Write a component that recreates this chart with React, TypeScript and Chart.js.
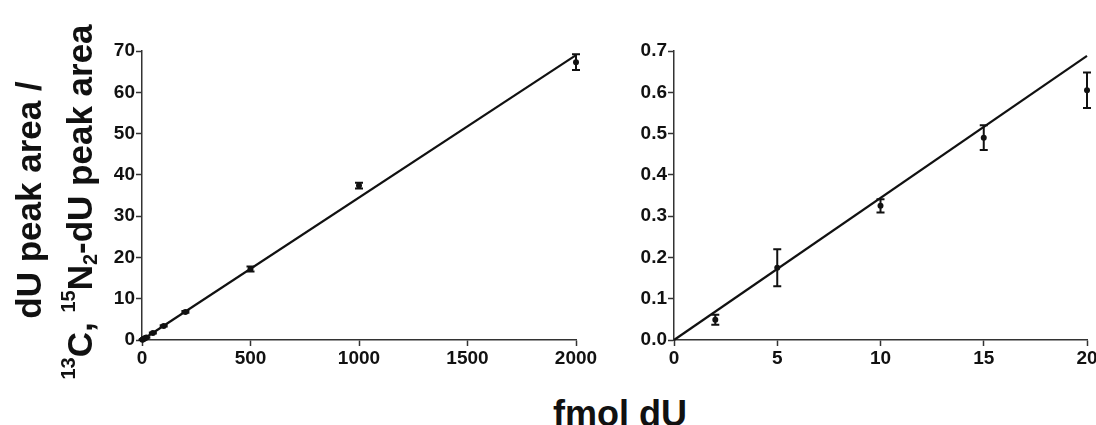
import React, { useEffect, useRef } from "react";
import { Chart, registerables } from "chart.js";
Chart.register(...registerables);

// ---- data ----
const leftX = [2, 5, 10, 15, 20, 50, 100, 200, 500, 1000, 2000];
const leftY = [0.05, 0.17, 0.33, 0.49, 0.6, 1.7, 3.4, 6.8, 17.2, 37.4, 67.3];
const leftErr = [0.01, 0.05, 0.02, 0.03, 0.04, 0.1, 0.15, 0.2, 0.6, 0.7, 1.9];
const leftFitX = [0, 2000];
const leftFitY = [0, 69.0];

const rightX = [2, 5, 10, 15, 20];
const rightY = [0.049, 0.175, 0.325, 0.49, 0.605];
const rightErr = [0.012, 0.045, 0.016, 0.03, 0.043];
const rightFitX = [0, 20];
const rightFitY = [0, 0.688];

const leftXTicks = [0, 500, 1000, 1500, 2000];
const leftYTicks = [0, 10, 20, 30, 40, 50, 60, 70];
const rightXTicks = [0, 5, 10, 15, 20];
const rightYTicks = [0, 0.1, 0.2, 0.3, 0.4, 0.5, 0.6, 0.7];

const xTitle = "fmol dU";

const FONT = "'Liberation Sans', Arial, Helvetica, sans-serif";
const INK = "#111";

function errPlugin(xs: number[], ys: number[], errs: number[]) {
  return {
    id: "errbars",
    afterDatasetsDraw(chart: any) {
      const ctx = chart.ctx;
      const sx = chart.scales.x;
      const sy = chart.scales.y;
      ctx.save();
      ctx.strokeStyle = INK;
      ctx.lineWidth = 2;
      xs.forEach((x, i) => {
        const px = sx.getPixelForValue(x);
        const top = sy.getPixelForValue(ys[i] + errs[i]);
        const bot = sy.getPixelForValue(ys[i] - errs[i]);
        ctx.beginPath();
        ctx.moveTo(px, top);
        ctx.lineTo(px, bot);
        ctx.moveTo(px - 4, top);
        ctx.lineTo(px + 4, top);
        ctx.moveTo(px - 4, bot);
        ctx.lineTo(px + 4, bot);
        ctx.stroke();
      });
      ctx.restore();
    },
  };
}

function makeConfig(
  xs: number[], ys: number[], errs: number[],
  fitX: number[], fitY: number[],
  xTicks: number[], yTicks: number[], decimals: number,
  yAxisWidth: number, padRight: number
): any {
  const tickFont = { family: FONT, size: 19, weight: "bold" as const };
  return {
    type: "scatter",
    data: {
      datasets: [
        {
          data: fitX.map((x, i) => ({ x, y: fitY[i] })),
          showLine: true,
          borderColor: INK,
          borderWidth: 2.2,
          pointRadius: 0,
          clip: false,
        },
        {
          data: xs.map((x, i) => ({ x, y: ys[i] })),
          pointRadius: 3,
          pointBackgroundColor: INK,
          pointBorderColor: INK,
          borderWidth: 0,
          clip: false,
        },
      ],
    },
    options: {
      animation: false,
      responsive: false,
      layout: { padding: { top: 51, right: padRight, bottom: 0, left: 0 } },
      plugins: { legend: { display: false }, tooltip: { enabled: false } },
      scales: {
        x: {
          type: "linear",
          min: xTicks[0],
          max: xTicks[xTicks.length - 1],
          afterBuildTicks: (s: any) => { s.ticks = xTicks.map((v) => ({ value: v })); },
          afterFit: (s: any) => { s.height = 40; s.paddingLeft = 0; s.paddingRight = 0; },
          grid: { display: true, drawOnChartArea: false, drawTicks: true, tickLength: 6, tickWidth: 1.5, tickColor: "#333" },
          border: { display: true, color: "#333", width: 1.5 },
          ticks: { color: INK, font: tickFont, padding: 1, maxRotation: 0, autoSkip: false, callback: (v: any) => String(v) },
        },
        y: {
          type: "linear",
          min: yTicks[0],
          max: yTicks[yTicks.length - 1],
          afterBuildTicks: (s: any) => { s.ticks = yTicks.map((v) => ({ value: v })); },
          afterFit: (s: any) => { s.width = yAxisWidth; s.paddingTop = 0; s.paddingBottom = 0; },
          grid: { display: true, drawOnChartArea: false, drawTicks: true, tickLength: 6, tickWidth: 1.5, tickColor: "#333" },
          border: { display: true, color: "#333", width: 1.5 },
          ticks: { color: INK, font: tickFont, padding: 1, autoSkip: false, callback: (v: any) => Number(v).toFixed(decimals) },
        },
      },
    },
    plugins: [errPlugin(xs, ys, errs)],
  };
}

export default function App() {
  const leftRef = useRef<HTMLCanvasElement>(null);
  const rightRef = useRef<HTMLCanvasElement>(null);

  useEffect(() => {
    const c1 = new Chart(
      leftRef.current!,
      makeConfig(leftX, leftY, leftErr, leftFitX, leftFitY, leftXTicks, leftYTicks, 0, 142, 24)
    );
    const c2 = new Chart(
      rightRef.current!,
      makeConfig(rightX, rightY, rightErr, rightFitX, rightFitY, rightXTicks, rightYTicks, 1, 74, 9)
    );
    return () => {
      c1.destroy();
      c2.destroy();
    };
  }, []);

  const titleStyle: React.CSSProperties = {
    position: "absolute",
    fontFamily: FONT,
    fontWeight: "bold",
    color: INK,
    whiteSpace: "nowrap",
    lineHeight: 1,
  };
  const sup: React.CSSProperties = { fontSize: 20, position: "relative", top: -17 };
  const sub: React.CSSProperties = { fontSize: 20, position: "relative", top: 5 };

  return (
    <div style={{ position: "fixed", left: 0, top: 0, width: 1096, height: 425, background: "#fff", overflow: "hidden" }}>
      <canvas ref={leftRef} width={600} height={380} style={{ position: "absolute", left: 0, top: 0, width: 600, height: 380 }} />
      <canvas ref={rightRef} width={496} height={380} style={{ position: "absolute", left: 600, top: 0, width: 496, height: 380 }} />
      <div style={{ ...titleStyle, fontSize: 35, left: 28, top: 200, transform: "translate(-50%, -50%) rotate(-90deg)" }}>
        dU peak area /
      </div>
      <div style={{ ...titleStyle, fontSize: 35, left: 79, top: 202, transform: "translate(-50%, -50%) rotate(-90deg)" }}>
        <span style={sup}>13</span>C, <span style={sup}>15</span>N<span style={sub}>2</span>-dU peak area
      </div>
      <div style={{ ...titleStyle, fontSize: 36, left: 620, top: 414, transform: "translate(-50%, -50%)" }}>
        {xTitle}
      </div>
    </div>
  );
}
